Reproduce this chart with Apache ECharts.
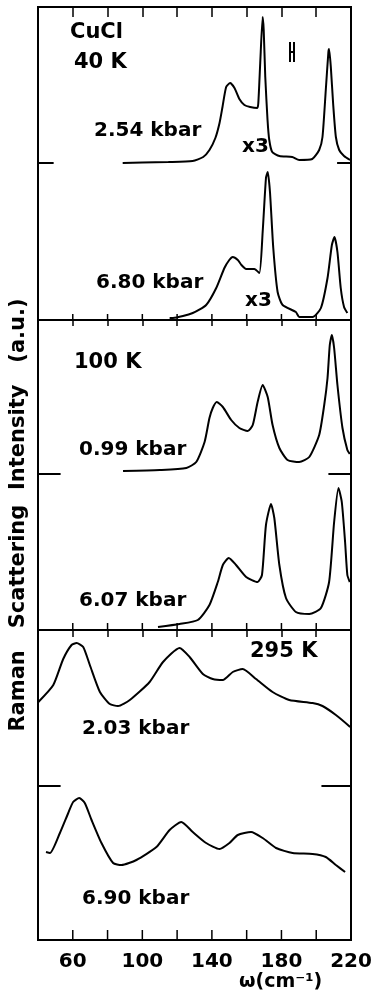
<!DOCTYPE html>
<html>
<head>
<meta charset="utf-8">
<script src="https://cdn.jsdelivr.net/npm/echarts@6/dist/echarts.min.js"></script>
<style>
html,body{margin:0;padding:0;background:#fff;}
#chart{width:383px;height:992px;}
</style>
</head>
<body>
<div id="chart"></div>
<script>
// spectra: [wavenumber cm^-1, intensity a.u.]
const k40_254 = [[88.7,0],[100,0.5],[115,1],[128.9,2],[135,6],[138.6,13],[142,25],[144.4,40],[146.1,56],[148.2,76],[150.5,80],[153,75],[155.8,64],[158.7,58],[162,56],[166.1,55],[166.7,60],[167.8,100],[169.2,146],[169.8,133],[170.7,86],[172,43],[173,23],[174.7,11],[178.8,7],[186.2,6],[190.2,3],[197.7,4],[201.7,13],[203.6,26],[205.5,73],[207,111],[207.4,114],[208.4,96],[209.7,60],[211.3,26],[213.2,13],[216,7],[219.5,3]]
const k40_680 = [[115.7,2],[117.6,2],[129,7],[136.7,15],[142.5,32],[147.2,52],[150,60],[152,63],[154.9,60],[157,55],[159.7,51],[164.4,51],[167.3,47],[169.2,88],[171.1,142],[172.1,148],[173.4,128],[175.3,72],[177.8,28],[180.7,15],[188.3,8],[190.2,3],[197.9,3],[202.7,12],[206.5,42],[209,75],[210.5,83],[212.2,68],[214.1,32],[216,13],[217.9,7]]
const k100_099 = [[88.9,3],[110,4],[125.3,6],[131,12],[135.8,32],[138.6,56],[140.5,66],[142.8,72],[146.3,67],[151.1,54],[155.8,46],[160.6,43],[163.5,49],[166.3,72],[169.2,89],[172.1,77],[174.9,49],[178.8,26],[183.5,14],[190.2,12],[196,17],[201.7,39],[204.6,69],[206.5,96],[207.8,129],[209,139],[210.3,126],[212.2,89],[215.1,46],[217.9,24],[219.3,20]]
const k100_607 = [[109,3],[121.4,6],[131.9,10],[138.6,25],[143.4,48],[146.3,65],[149.7,72],[153.9,65],[159.7,53],[166.3,48],[168.8,55],[171.1,105],[174,126],[175.9,112],[178.8,65],[182.6,32],[188.3,18],[196,16],[202.7,22],[207.4,48],[210.3,108],[212.8,142],[214.7,128],[216.6,88],[217.9,55],[219.3,48]]
const k295_203 = [[40.2,84],[48.8,101],[54.5,127],[59.3,141],[62.2,143],[66,139],[69.8,121],[75.6,94],[81.3,82],[86,80],[92.8,86],[104.2,104],[111.9,124],[121.4,138],[127.2,129],[134.8,112],[140.5,107],[146.3,106],[152,114],[157.7,117],[165.4,107],[174.9,94],[184.5,86],[197.9,83],[203.6,80],[211.3,71],[219.5,59]]
const k295_690 = [[44.6,88],[46.9,87],[52.6,107],[57.4,127],[60.2,138],[63.7,142],[66.9,137],[70.8,120],[76.5,97],[83.2,77],[88,75],[96.6,80],[108.1,93],[115.7,110],[122.4,118],[129,108],[136.7,97],[144.4,91],[150.1,97],[154.9,105],[162.5,108],[169.2,102],[176.9,92],[186.4,87],[197.9,86],[205.5,83],[211.3,75],[216.6,68]]

const spectra = [k40_254, k40_680, k100_099, k100_607, k295_203, k295_690]
const pressures = ['2.54 kbar', '6.80 kbar', '0.99 kbar', '6.07 kbar', '2.03 kbar', '6.90 kbar']
const temps = ['40 K', '100 K', '295 K']
const xLabels = [60, 100, 140, 180, 220]

const chart = echarts.init(document.getElementById('chart'))
const FONT = '"DejaVu Sans", sans-serif'

// panel layout (px)
const panelTop = [7, 163, 320, 474, 630, 786]
const panelH = [156, 157, 154, 156, 156, 154]
const LEFT = 38, RIGHT = 32
// short zero marks [left len, right len] in cm^-1, on panels 0,2,4
const zeroMarks = {0: [9, 8], 2: [13, 13], 4: [13, 17]}
// upward ticks on the bottom edge of panels 1,3,5 (px)
const upTick = {1: 6, 3: 7, 5: 10}

const grid = [], xAxis = [], yAxis = [], series = []
spectra.forEach((d, i) => {
  grid.push({left: LEFT, right: RIGHT, top: panelTop[i], height: panelH[i]})
  if (i === 5) {
    // bottom panel carries the tick labels
    xAxis.push({gridIndex: i, type: 'value', position: 'bottom', min: 40, max: 220, interval: 20,
      axisLine: {show: false, onZero: false}, axisTick: {show: false}, splitLine: {show: false},
      axisLabel: {color: '#000', fontSize: 20, fontWeight: 'bold', fontFamily: FONT, margin: 12,
        showMinLabel: true, showMaxLabel: true,
        formatter: v => xLabels.includes(v) ? String(v) : ''}})
  } else {
    xAxis.push({gridIndex: i, type: 'value', min: 40, max: 220, show: false})
  }
  yAxis.push({gridIndex: i, type: 'value', min: 0, max: panelH[i], show: false})
  const ml = []
  if (zeroMarks[i]) {
    ml.push([{coord: [40, 0]}, {coord: [40 + zeroMarks[i][0], 0]}])
    ml.push([{coord: [220 - zeroMarks[i][1], 0]}, {coord: [220, 0]}])
  }
  if (i === 0) {
    // resolution bar
    ml.push([{coord: [184.6, 101]}, {coord: [184.6, 121]}])
    ml.push([{coord: [187.3, 101]}, {coord: [187.3, 121]}])
    ml.push([{coord: [184.6, 111]}, {coord: [187.3, 111]}])
  }
  series.push({
    type: 'line', xAxisIndex: i, yAxisIndex: i, data: d,
    showSymbol: false, smooth: 0.2, animation: false,
    lineStyle: {color: '#000', width: 2},
    markLine: {silent: true, symbol: ['none', 'none'], label: {show: false}, animation: false,
      lineStyle: {color: '#000', width: 2, type: 'solid'}, data: ml}
  })
})

// three framed blocks, one per temperature, with inward ticks on top
const topTick = [10, 6, 7]
for (let f = 0; f < 3; f++) {
  const g = 6 + f
  grid.push({left: LEFT, right: RIGHT, top: panelTop[2 * f], height: panelH[2 * f] + panelH[2 * f + 1],
    show: true, borderColor: '#000', borderWidth: 2, backgroundColor: 'transparent'})
  yAxis.push({gridIndex: g, type: 'value', min: 0, max: 1, show: false})
  xAxis.push({
    gridIndex: g, type: 'value', position: 'top', min: 40, max: 220, interval: 20,
    axisLine: {show: false, onZero: false}, splitLine: {show: false}, axisLabel: {show: false},
    axisTick: {show: true, inside: true, length: topTick[f], lineStyle: {color: '#000', width: 1.5}}
  })
}

const txt = (text, x, y, size) => ({type: 'text', x: x, y: y, silent: true,
  style: {text: text, font: 'bold ' + size + 'px ' + FONT, fill: '#000', textAlign: 'left', textVerticalAlign: 'middle'}})

const graphic = [
  txt('CuCl', 70, 33, 21),
  txt(temps[0], 74, 63, 21),
  txt(pressures[0], 94, 131, 20),
  txt('x3', 242, 147, 20),
  txt(pressures[1], 96, 283, 20),
  txt('x3', 245, 301, 20),
  txt(temps[1], 74, 363, 21),
  txt(pressures[2], 79, 450, 20),
  txt(pressures[3], 79, 601, 20),
  txt(temps[2], 250, 652, 21),
  txt(pressures[4], 82, 729, 20),
  txt(pressures[5], 82, 899, 20),
  txt('ω(cm⁻¹)', 239, 982, 19),
  {type: 'text', x: 19, y: 515, rotation: Math.PI / 2, silent: true,
    style: {text: 'Raman   Scattering  Intensity   (a.u.)', font: 'bold 21px ' + FONT, fill: '#000',
      textAlign: 'center', textVerticalAlign: 'middle'}}
]

chart.setOption({animation: false, backgroundColor: '#fff', grid, xAxis, yAxis, series, graphic})

// upward ticks on block bottoms, placed through the panels' own scales
const ticks = []
Object.keys(upTick).forEach(k => {
  const i = +k
  const y0 = chart.convertToPixel({yAxisIndex: i}, 0)
  for (let x = 60; x <= 200; x += 20) {
    const px = chart.convertToPixel({xAxisIndex: i}, x)
    ticks.push({type: 'line', z: 100, silent: true,
      shape: {x1: px, y1: y0, x2: px, y2: y0 - upTick[i]},
      style: {stroke: '#000', lineWidth: 1.5}})
  }
})
chart.setOption({graphic: graphic.concat(ticks)})
</script>
</body>
</html>
